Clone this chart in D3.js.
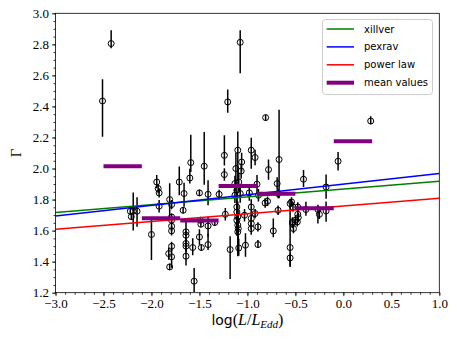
<!DOCTYPE html>
<meta charset="utf-8">
<script src="https://cdn.jsdelivr.net/npm/d3@7"></script>
<style>
  body { margin: 0; background: #fff; }
</style>
<body>
<div id="chart"></div>
<script>

// measured sources: log(L/LEdd), photon index and its error bar
var logL = [-2.42, -2.51, -2.22, -2.21, -2.19, -2.15, -2.00, -1.945, -1.93, -1.92, -1.92, -1.81, -1.79, -1.71, -1.66, -1.67,
  -1.60, -1.59, -1.45, -1.50, -1.41, -1.295, -1.79, -1.79, -1.79, -1.79, -1.82, -1.79, -1.79, -1.81, -1.64, -1.64, -1.64,
  -1.64, -1.64, -1.57, -1.555, -1.49, -1.485, -1.50, -1.48, -1.41, -1.41, -1.34, -1.24, -1.24, -1.23, -1.10, -1.12, -1.13,
  -1.11, -1.13, -1.09, -1.075, -1.11, -1.06, -1.065, -0.96, -0.92, -0.98, -0.96, -0.90, -0.885, -0.815, -0.79, -0.78, -0.69,
  -0.68, -0.54, -0.475, -1.075, -1.205, -0.81, -0.67, -1.18, -1.11, -1.10, -1.11, -1.10, -1.095, -1.10, -1.09, -1.02, -1.03,
  -0.96, -0.96, -0.96, -0.92, -0.89, -0.89, -0.73, -0.68, -0.555, -0.555, -0.53, -0.52, -0.50, -0.475, -0.47, -0.415, -0.18,
  -0.055, 0.285, -0.555, -0.525, -0.48, -0.53, -0.39, -0.265, -0.25, -0.18];
var gamma = [2.805, 2.435, 1.725, 1.69, 1.725, 1.725, 1.575, 1.913, 1.871, 1.843, 1.757, 1.80, 1.768, 1.913, 1.839, 1.731,
  1.939, 2.038, 2.015, 1.843, 1.834, 1.834, 1.688, 1.667, 1.628, 1.598, 1.452, 1.499, 1.431, 1.366, 1.592, 1.570, 1.517,
  1.50, 1.435, 1.491, 1.274, 1.667, 1.641, 1.559, 1.491, 1.630, 1.510, 1.652, 2.085, 1.961, 1.705, 2.118, 2.000, 1.903,
  1.860, 1.828, 1.913, 1.839, 1.752, 2.042, 1.984, 2.118, 2.071, 1.843, 1.752, 1.899, 1.828, 1.778, 1.789, 1.993, 1.903,
  1.839, 1.785, 1.752, 2.813, 2.429, 2.328, 2.058, 1.478, 1.720, 1.688, 1.667, 1.635, 1.613, 1.592, 1.488, 1.506, 1.699,
  1.678, 1.646, 1.613, 1.710, 1.624, 1.510, 1.598, 1.731, 1.491, 1.424, 1.646, 1.613, 1.667, 1.705, 1.684, 1.931, 1.881,
  2.047, 2.306, 1.774, 1.752, 1.656, 1.656, 1.736, 1.736, 1.705, 1.727];
var errLo = [0.03, 0.23, 0.02, 0.02, 0.125, 0.10, 0.165, 0.04, 0.03, 0.03, 0.04, 0.13, 0.03, 0.085, 0.085, 0.02,
  0.035, 0.06, 0.12, 0.02, 0.07, 0.03, 0.02, 0.02, 0.03, 0.03, 0.04, 0.03, 0.07, 0.02, 0.03, 0.03, 0.04,
  0.04, 0.06, 0.05, 0.07, 0.02, 0.02, 0.05, 0.02, 0.07, 0.035, 0.02, 0.065, 0.04, 0.04, 0.2, 0.1, 0.05,
  0.05, 0.05, 0.06, 0.06, 0.08, 0.06, 0.05, 0.12, 0.05, 0.05, 0.05, 0.06, 0.04, 0.03, 0.03, 0.065, 0.04,
  0.03, 0.03, 0.03, 0.2, 0.07, 0.02, 0.25, 0.19, 0.1, 0.15, 0.1, 0.2, 0.1, 0.15, 0.05, 0.075, 0.04,
  0.04, 0.04, 0.04, 0.03, 0.03, 0.02, 0.04, 0.03, 0.125, 0.05, 0.03, 0.03, 0.03, 0.03, 0.03, 0.05, 0.075,
  0.06, 0.02, 0.03, 0.03, 0.03, 0.03, 0.04, 0.09, 0.03, 0.07];
var errHi = [0.085, 0.14, 0.02, 0.02, 0.12, 0.09, 0.10, 0.045, 0.03, 0.03, 0.04, 0.105, 0.03, 0.10, 0.07, 0.02,
  0.06, 0.18, 0.22, 0.02, 0.09, 0.03, 0.02, 0.02, 0.03, 0.03, 0.04, 0.03, 0.06, 0.02, 0.075, 0.03, 0.04,
  0.04, 0.05, 0.06, 0.085, 0.02, 0.02, 0.05, 0.02, 0.06, 0.07, 0.02, 0.13, 0.04, 0.04, 0.12, 0.1, 0.05,
  0.05, 0.05, 0.06, 0.06, 0.08, 0.06, 0.05, 0.08, 0.05, 0.05, 0.05, 0.06, 0.04, 0.03, 0.03, 0.065, 0.04,
  0.03, 0.03, 0.03, 0.077, 0.08, 0.02, 0.32, 0.085, 0.1, 0.1, 0.1, 0.1, 0.1, 0.1, 0.06, 0.077, 0.04,
  0.04, 0.04, 0.04, 0.03, 0.03, 0.03, 0.08, 0.03, 0.28, 0.03, 0.03, 0.03, 0.03, 0.03, 0.03, 0.06, 0.08,
  0.06, 0.03, 0.03, 0.03, 0.03, 0.03, 0.05, 0.03, 0.03, 0.06];

// linear fits: gamma = intercept + slope * logL
var fitNames = ["xillver", "pexrav", "power law"];
var fitSlopes = [0.0505, 0.0683, 0.0498];
var fitIntercepts = [1.8675, 1.8998, 1.758];
var fitColors = ["green", "blue", "red"];

// mean values in bins of log(L/LEdd)
var binStart = [-2.5, -2.1, -1.7, -1.3, -0.9, -0.5, -0.1];
var binEnd = [-2.1, -1.7, -1.3, -0.9, -0.5, -0.1, 0.3];
var binMean = [2.015, 1.68, 1.665, 1.888, 1.838, 1.744, 2.176];

var xTicks = [-3.0, -2.5, -2.0, -1.5, -1.0, -0.5, 0.0, 0.5, 1.0];
var yTicks = [1.2, 1.4, 1.6, 1.8, 2.0, 2.2, 2.4, 2.6, 2.8, 3.0];

var margin = {top: 13.3, left: 55.5},
  width = 383.8,
  height = 279.4;

var svg = d3.select("#chart")
  .append("svg")
  .attr("width", 457)
  .attr("height", 339);

var g = svg.append("g")
  .attr("transform", "translate(" + margin.left + "," + margin.top + ")");

var x = d3.scaleLinear().domain([-3, 1]).range([0, width]);
var y = d3.scaleLinear().domain([1.2, 3.0]).range([height, 0]);

svg.append("defs").append("clipPath").attr("id", "clip")
  .append("rect").attr("width", width).attr("height", height);

var plot = g.append("g").attr("clip-path", "url(#clip)");

// error bars + open circles
var pts = d3.range(logL.length).map(function(i) {
  return {x: logL[i], y: gamma[i], lo: errLo[i], hi: errHi[i]};
});

plot.append("g").selectAll("line")
  .data(pts)
  .enter()
  .append("line")
  .attr("x1", function(d) { return x(d.x); })
  .attr("x2", function(d) { return x(d.x); })
  .attr("y1", function(d) { return y(d.y - d.lo); })
  .attr("y2", function(d) { return y(d.y + d.hi); })
  .attr("stroke", "black")
  .attr("stroke-width", 1.5);

plot.append("g").selectAll("circle")
  .data(pts)
  .enter()
  .append("circle")
  .attr("cx", function(d) { return x(d.x); })
  .attr("cy", function(d) { return y(d.y); })
  .attr("r", 3)
  .attr("fill", "none")
  .attr("stroke", "black")
  .attr("stroke-width", 1);

// fit lines
plot.append("g").selectAll("line")
  .data(fitNames)
  .enter()
  .append("line")
  .attr("x1", x(-3))
  .attr("x2", x(1))
  .attr("y1", function(d, i) { return y(fitIntercepts[i] + fitSlopes[i] * -3); })
  .attr("y2", function(d, i) { return y(fitIntercepts[i] + fitSlopes[i] * 1); })
  .attr("stroke", function(d, i) { return fitColors[i]; })
  .attr("stroke-width", 1.5);

// mean values
plot.append("g").selectAll("line")
  .data(binMean)
  .enter()
  .append("line")
  .attr("x1", function(d, i) { return x(binStart[i]); })
  .attr("x2", function(d, i) { return x(binEnd[i]); })
  .attr("y1", function(d) { return y(d); })
  .attr("y2", function(d) { return y(d); })
  .attr("stroke", "purple")
  .attr("stroke-width", 4);

// axes
var fmt = d3.format(".1f");
var serif = "'Liberation Serif', 'DejaVu Serif', serif";

var xMinor = d3.range(-30, 11).map(function(k) { return k / 10; });
var yMinor = d3.range(24, 61).map(function(k) { return k / 20; });

g.append("g")
  .attr("transform", "translate(0," + height + ")")
  .call(d3.axisBottom(x).tickValues(xMinor).tickSize(2).tickFormat(""))
  .call(function(a) { a.select(".domain").remove(); });
g.append("g")
  .call(d3.axisLeft(y).tickValues(yMinor).tickSize(2).tickFormat(""))
  .call(function(a) { a.select(".domain").remove(); });

var xAxis = g.append("g")
  .attr("transform", "translate(0," + height + ")")
  .call(d3.axisBottom(x).tickValues(xTicks).tickSize(3.5).tickPadding(3).tickFormat(fmt));
var yAxis = g.append("g")
  .call(d3.axisLeft(y).tickValues(yTicks).tickSize(3.5).tickPadding(3).tickFormat(fmt));

[xAxis, yAxis].forEach(function(a) {
  a.select(".domain").remove();
  a.selectAll("text").attr("font-family", serif).attr("font-size", 13).attr("fill", "black");
});
g.selectAll(".tick line").attr("stroke", "black").attr("stroke-width", 0.8);

// frame
g.append("rect")
  .attr("width", width)
  .attr("height", height)
  .attr("fill", "none")
  .attr("stroke", "black")
  .attr("stroke-width", 0.8);

// axis labels
var xl = svg.append("text")
  .attr("x", margin.left + width / 2)
  .attr("y", 325)
  .attr("text-anchor", "middle")
  .attr("font-size", 16)
  .attr("fill", "black");
xl.append("tspan").attr("font-family", "'DejaVu Sans', sans-serif").attr("font-size", 14).text("log");
xl.append("tspan").attr("font-family", serif).text("(");
xl.append("tspan").attr("font-family", serif).attr("font-style", "italic").text("L");
xl.append("tspan").attr("font-family", serif).text("/");
xl.append("tspan").attr("font-family", serif).attr("font-style", "italic").text("L");
xl.append("tspan").attr("font-family", serif).attr("font-style", "italic")
  .attr("font-size", 11).attr("dy", 3).text("Edd");
xl.append("tspan").attr("font-family", serif).attr("dy", -3).text(")");

svg.append("text")
  .attr("transform", "translate(21," + (margin.top + height / 2) + ") rotate(-90)")
  .attr("text-anchor", "middle")
  .attr("font-family", serif)
  .attr("font-size", 15)
  .attr("fill", "black")
  .text("Γ");

// legend
var legNames = fitNames.concat(["mean values"]);
var legColors = fitColors.concat(["purple"]);
var legWidths = [1.5, 1.5, 1.5, 4];

var leg = svg.append("g").attr("transform", "translate(322.5,19.5)");
leg.append("rect")
  .attr("width", 110)
  .attr("height", 75)
  .attr("rx", 3)
  .attr("fill", "white")
  .attr("fill-opacity", 0.8)
  .attr("stroke", "#cccccc")
  .attr("stroke-width", 1);

var items = leg.selectAll(".item")
  .data(legNames)
  .enter()
  .append("g")
  .attr("transform", function(d, i) { return "translate(0," + (9.5 + i * 17.9) + ")"; });
items.append("line")
  .attr("x1", 4.2)
  .attr("x2", 31.5)
  .attr("stroke", function(d, i) { return legColors[i]; })
  .attr("stroke-width", function(d, i) { return legWidths[i]; });
items.append("text")
  .attr("x", 41.5)
  .attr("dy", "0.35em")
  .attr("font-family", "'DejaVu Sans', sans-serif")
  .attr("font-size", 10)
  .attr("fill", "black")
  .text(function(d) { return d; });

</script>
</body>
